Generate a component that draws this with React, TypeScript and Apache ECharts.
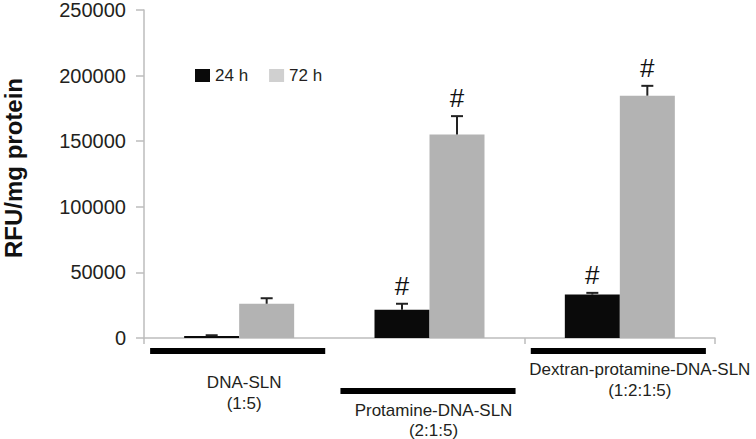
import React, { useEffect, useRef } from "react";
import * as echarts from "echarts";

const groupNames = ["DNA-SLN", "Protamine-DNA-SLN", "Dextran-protamine-DNA-SLN"];
const groupRatios = ["(1:5)", "(2:1:5)", "(1:2:1:5)"];
const seriesNames = ["24 h", "72 h"];
const values24 = [1500, 21600, 33100];
const err24 = [600, 4500, 1300];
const values72 = [26100, 155100, 184700];
const err72 = [4200, 14000, 7500];
const sig24 = [0, 1, 1];
const sig72 = [0, 1, 1];
const yMin = 0;
const yMax = 250000;
const yInterval = 50000;

const FONT = "Liberation Sans, Arial, sans-serif";
const TEXT = "#231f20";
const BAR_W = 55;
const CAT_FONT = 17;

// per-group label layout (offsets from category center / axis baseline)
const labelLayout = [
  { barDy: 13, textDx: 5, line1Dy: 44, line2Dy: 65 },
  { barDy: 53, textDx: 4, line1Dy: 72, line2Dy: 92 },
  { barDy: 13, textDx: 20, line1Dy: 31, line2Dy: 52 },
];

function errorSeries(values: number[], errs: number[], sig: number[], offset: number) {
  return {
    type: "custom",
    z: 5,
    silent: true,
    data: values.map((v, i) => [i, v, errs[i], sig[i]]),
    encode: { x: 0, y: 1 },
    renderItem: (params: any, api: any) => {
      const idx = api.value(0);
      const v = api.value(1);
      const e = api.value(2);
      const s = api.value(3);
      const base = api.coord([idx, v]);
      const top = api.coord([idx, v + e]);
      const x = base[0] + offset;
      const children: any[] = [
        {
          type: "line",
          shape: { x1: x, y1: base[1], x2: x, y2: top[1] },
          style: { stroke: "#222", lineWidth: 2 },
        },
        {
          type: "line",
          shape: { x1: x - 6, y1: top[1], x2: x + 6, y2: top[1] },
          style: { stroke: "#222", lineWidth: 2 },
        },
      ];
      if (s) {
        children.push({
          type: "text",
          x: x,
          y: top[1] - 5,
          style: {
            text: "#",
            fontSize: 26,
            fontFamily: FONT,
            fill: "#111",
            align: "center",
            verticalAlign: "bottom",
          },
        });
      }
      return { type: "group", children };
    },
  };
}

export default function App() {
  const ref = useRef<HTMLDivElement>(null);
  useEffect(() => {
    const chart = echarts.init(ref.current!, null, { renderer: "svg" });
    const option: any = {
      animation: false,
      backgroundColor: "#ffffff",
      grid: {
        left: 144,
        right: 41,
        top: 10,
        bottom: 101,
        containLabel: false,
        outerBoundsMode: "none",
      },
      legend: {
        left: 190,
        top: 62,
        icon: "rect",
        itemWidth: 15,
        itemHeight: 13,
        itemGap: 21,
        textStyle: { fontSize: 17, fontFamily: FONT, color: TEXT },
        data: [
          { name: seriesNames[0], itemStyle: { color: "#0a0a0a" } },
          { name: seriesNames[1], itemStyle: { color: "#d0d0d0" } },
        ],
      },
      xAxis: {
        type: "category",
        data: groupNames,
        axisLine: { lineStyle: { color: "#bdbdbd", width: 1.5 } },
        axisTick: { show: true, length: 6, lineStyle: { color: "#bdbdbd", width: 1.5 } },
        axisLabel: { show: false },
      },
      yAxis: {
        type: "value",
        min: yMin,
        max: yMax,
        interval: yInterval,
        name: "RFU/mg protein",
        nameLocation: "middle",
        nameGap: 119,
        nameTextStyle: {
          fontSize: 24,
          fontWeight: "bold",
          fontFamily: FONT,
          color: "#111",
          padding: [0, 0, 0, 12],
        },
        axisLine: { show: true, lineStyle: { color: "#bdbdbd", width: 1.5 } },
        axisTick: { show: true, length: 8, lineStyle: { color: "#bdbdbd", width: 1.5 } },
        splitLine: { show: false },
        axisLabel: {
          fontSize: 20,
          fontFamily: FONT,
          color: TEXT,
          margin: 18,
          formatter: (v: number) => String(v),
        },
      },
      series: [
        {
          name: seriesNames[0],
          type: "bar",
          data: values24,
          barWidth: BAR_W,
          barGap: "0%",
          itemStyle: { color: "#0a0a0a" },
        },
        {
          name: seriesNames[1],
          type: "bar",
          data: values72,
          barWidth: BAR_W,
          barGap: "0%",
          itemStyle: { color: "#b3b3b3" },
        },
        errorSeries(values24, err24, sig24, -BAR_W / 2),
        errorSeries(values72, err72, sig72, BAR_W / 2),
      ],
    };
    chart.setOption(option);

    const baseY = chart.convertToPixel({ yAxisIndex: 0 }, 0) as number;
    const c0 = chart.convertToPixel({ xAxisIndex: 0 }, 0) as number;
    const c1 = chart.convertToPixel({ xAxisIndex: 0 }, 1) as number;
    const band = c1 - c0;
    const elements: any[] = [];
    groupNames.forEach((name, i) => {
      const cx = chart.convertToPixel({ xAxisIndex: 0 }, i) as number;
      const L = labelLayout[i];
      const w = band * 0.92;
      elements.push({
        type: "rect",
        shape: { x: cx - 1.5 - w / 2, y: baseY + L.barDy - 3, width: w, height: 6 },
        style: { fill: "#000" },
      });
      elements.push({
        type: "text",
        x: cx + L.textDx,
        y: baseY + L.line1Dy,
        style: {
          text: name,
          fontSize: CAT_FONT,
          fontFamily: FONT,
          fill: TEXT,
          align: "center",
          verticalAlign: "middle",
        },
      });
      elements.push({
        type: "text",
        x: cx + L.textDx,
        y: baseY + L.line2Dy,
        style: {
          text: groupRatios[i],
          fontSize: CAT_FONT,
          fontFamily: FONT,
          fill: TEXT,
          align: "center",
          verticalAlign: "middle",
        },
      });
    });
    chart.setOption({ graphic: { elements } });

    return () => chart.dispose();
  }, []);
  return (
    <div
      ref={ref}
      style={{ position: "fixed", left: 0, top: 0, width: 756, height: 439 }}
    />
  );
}
